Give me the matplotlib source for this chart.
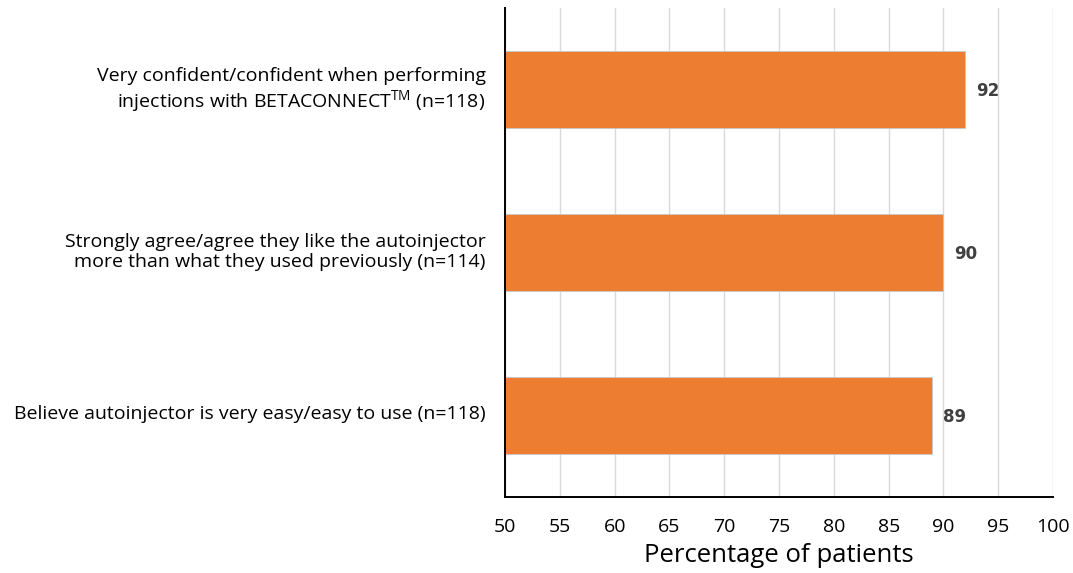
import matplotlib.pyplot as plt
from matplotlib.transforms import ScaledTranslation

plt.rcParams["font.family"] = ["Open Sans", "DejaVu Sans"]
plt.rcParams["mathtext.fontset"] = "custom"
plt.rcParams["mathtext.rm"] = "Open Sans"

# survey items, bottom to top
labels = [
    "Believe autoinjector is very easy/easy to use (n=118)",
    "Strongly agree/agree they like the autoinjector\nmore than what they used previously (n=114)",
    "Very confident/confident when performing\ninjections with BETACONNECT$^{\\mathrm{TM}}$ (n=118)",
]
values = [89, 90, 92]
xticks = list(range(50, 101, 5))

BAR_COLOR = "#ED7D31"

fig = plt.figure(figsize=(10.73, 5.73), dpi=100)
ax = fig.add_axes([0.4707, 0.1326, 0.5107, 0.853])

ypos = range(len(values))
ax.barh(ypos, values, height=0.47, left=0, color=BAR_COLOR, edgecolor="#c8c8c8",
        linewidth=0.6, zorder=3)

for y, v in zip(ypos, values):
    ax.text(v + 1.0, y - 0.01, f"{v}", va="center", ha="left",
            fontsize=12, fontweight="bold", color="#404040",
            family="DejaVu Sans")

ax.set_xlim(50, 100)
ax.set_ylim(-0.5, 2.5)
ax.set_xticks(xticks)
ax.set_xticklabels([str(t) for t in xticks], fontsize=14)
ax.set_yticks(list(ypos))
ax.set_yticklabels(labels, fontsize=14, linespacing=1.2)
ax.tick_params(axis="both", length=0)
ax.tick_params(axis="y", pad=14)
ax.tick_params(axis="x", pad=15)
ax.set_xlabel("Percentage of patients", fontsize=18.5, labelpad=5)

# category labels sit a little above the bar centres
lift = ScaledTranslation(0, 4 / 100, fig.dpi_scale_trans)
for lbl in ax.get_yticklabels():
    lbl.set_transform(lbl.get_transform() + lift)

ax.grid(axis="x", color="#d9d9d9", linewidth=1.0, zorder=0)
for side in ("top", "right"):
    ax.spines[side].set_visible(False)
ax.spines["left"].set_linewidth(1.4)
ax.spines["bottom"].set_linewidth(1.4)
ax.spines["left"].set_zorder(4)

fig.savefig("out.png", dpi=100)
